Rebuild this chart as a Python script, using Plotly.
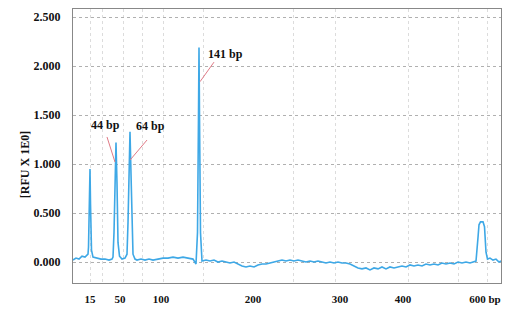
import plotly.graph_objects as go

# Electropherogram trace (scan position in arbitrary units, signal in RFU)
scan = [0, 3, 6, 9, 12, 14, 15, 15.5, 16.5, 17, 17.5, 18.5, 20, 24, 28, 32, 36, 39, 40,
        41, 42, 43, 44, 45, 46.5, 49, 52, 54,
        55, 56, 57, 58, 59, 60, 62, 64, 68, 72, 76, 80, 85, 90, 95, 100, 105, 110, 115, 120, 123,
        124.5, 125.5, 126, 126.5, 127.5,
        129, 133, 137, 141, 145, 149, 153, 157, 161, 165, 169, 173, 177, 181, 185, 189, 193, 197,
        201, 205, 209, 213, 217, 221, 225, 229, 233, 237, 241, 245, 249, 253, 257, 261, 265, 269,
        273, 277, 281, 285, 289, 293, 297, 301, 305, 309, 313, 317, 321, 325, 329, 333, 337, 341,
        345, 349, 353, 357, 361, 365, 369, 373, 377, 381, 385, 389, 393, 397, 401, 403,
        405, 406, 407.5, 410, 411.5, 413, 414.5, 417, 420, 423, 426, 428]
rfu = [0.02, 0.04, 0.03, 0.06, 0.05, 0.07, 0.08, 0.15, 0.60, 0.95, 0.60, 0.12, 0.05, 0.04, 0.03, 0.03, 0.02, 0.03, 0.05,
       0.30, 0.90, 1.22, 0.80, 0.20, 0.06, 0.03, 0.04, 0.08,
       0.40, 1.00, 1.33, 0.90, 0.30, 0.08, 0.03, 0.02, 0.03, 0.02, 0.03, 0.02, 0.03, 0.04, 0.04, 0.05, 0.04, 0.05, 0.04, 0.03, -0.02,
       0.30, 1.50, 2.19, 1.50, 0.30,
       0.01, 0.02, 0.01, 0.02, 0.00, 0.01, 0.00, -0.01, 0.00, -0.02, -0.04, -0.05, -0.04, -0.05, -0.03, -0.02, -0.02, -0.01,
       0.00, 0.01, 0.02, 0.01, 0.02, 0.01, 0.02, 0.01, 0.00, 0.01, 0.00, 0.01, 0.00, -0.01, 0.00, -0.01, 0.00, -0.01,
       -0.01, -0.02, -0.04, -0.06, -0.07, -0.06, -0.08, -0.06, -0.07, -0.05, -0.07, -0.05, -0.06, -0.05, -0.04, -0.05, -0.03, -0.04,
       -0.03, -0.04, -0.02, -0.03, -0.02, -0.03, -0.01, -0.02, -0.01, -0.02, 0.00, -0.01, 0.00, -0.01, 0.00, 0.01,
       0.25, 0.38, 0.41, 0.41, 0.36, 0.10, 0.03, 0.04, 0.02, 0.03, 0.00, 0.01]

# Size ladder ticks
tick_pos = [17, 47, 88, 180, 267, 330, 412]
tick_text = ["15", "50", "100", "200", "300", "400", "600 bp"]
grid_pos = [17, 29, 50, 69, 90, 130, 220, 262, 335, 385, 414]

# Peak labels: text position, leader line start (peak side) and end (label side)
peak_labels = ["44 bp", "64 bp", "141 bp"]
label_x = [32, 77, 152]
label_y = [1.40, 1.39, 2.12]
line_x0 = [42, 57, 127]
line_y0 = [1.02, 1.04, 1.84]
line_x1 = [34, 74, 141]
line_y1 = [1.276, 1.245, 2.04]

serif = "Liberation Serif"

fig = go.Figure()
fig.add_trace(go.Scatter(x=scan, y=rfu, mode="lines",
                         line=dict(color="#3ea8e6", width=1.6), showlegend=False))

for t, lx, ly, x0, y0, x1, y1 in zip(peak_labels, label_x, label_y, line_x0, line_y0, line_x1, line_y1):
    fig.add_shape(type="line", x0=x0, y0=y0, x1=x1, y1=y1, xref="x", yref="y",
                  line=dict(color="#e07a86", width=1))
    fig.add_annotation(x=lx, y=ly, text="<b>%s</b>" % t, showarrow=False,
                       font=dict(family=serif, size=12, color="#111"))

fig.add_annotation(x=0, xref="paper", xshift=-57, y=0.43, yref="paper",
                   text="<b>[RFU X 1E0]</b>", textangle=-90, showarrow=False,
                   font=dict(family=serif, size=12, color="#111"))

fig.update_layout(
    width=506, height=320,
    margin=dict(l=73, r=5, t=9, b=37),
    plot_bgcolor="white", paper_bgcolor="white",
    xaxis=dict(range=[0, 428], tickvals=tick_pos, ticktext=["<b>%s</b>" % s for s in tick_text],
               showgrid=False, zeroline=False, showline=True, linecolor="#888", linewidth=1.2,
               mirror=True, ticks="", tickfont=dict(family=serif, size=11, color="#111"),
               ticklabelstandoff=6, automargin=False,
               minor=dict(tickvals=grid_pos, showgrid=True, gridcolor="#dcdcdc",
                          griddash="dot", gridwidth=1, ticks="")),
    yaxis=dict(range=[-0.214, 2.582], tickvals=[0, 0.5, 1.0, 1.5, 2.0, 2.5],
               ticktext=["<b>%s</b>" % s for s in ["0.000", "0.500", "1.000", "1.500", "2.000", "2.500"]],
               showgrid=True, gridcolor="#b0b0b0", griddash="dot", gridwidth=1,
               zeroline=False, showline=True, linecolor="#888", linewidth=1.2, mirror=True,
               ticks="", tickfont=dict(family=serif, size=12, color="#111"), ticklabelstandoff=9,
               automargin=False),
)

fig.write_html("out.html", post_script="document.body.style.margin='0';",
               config={"displayModeBar": False})
